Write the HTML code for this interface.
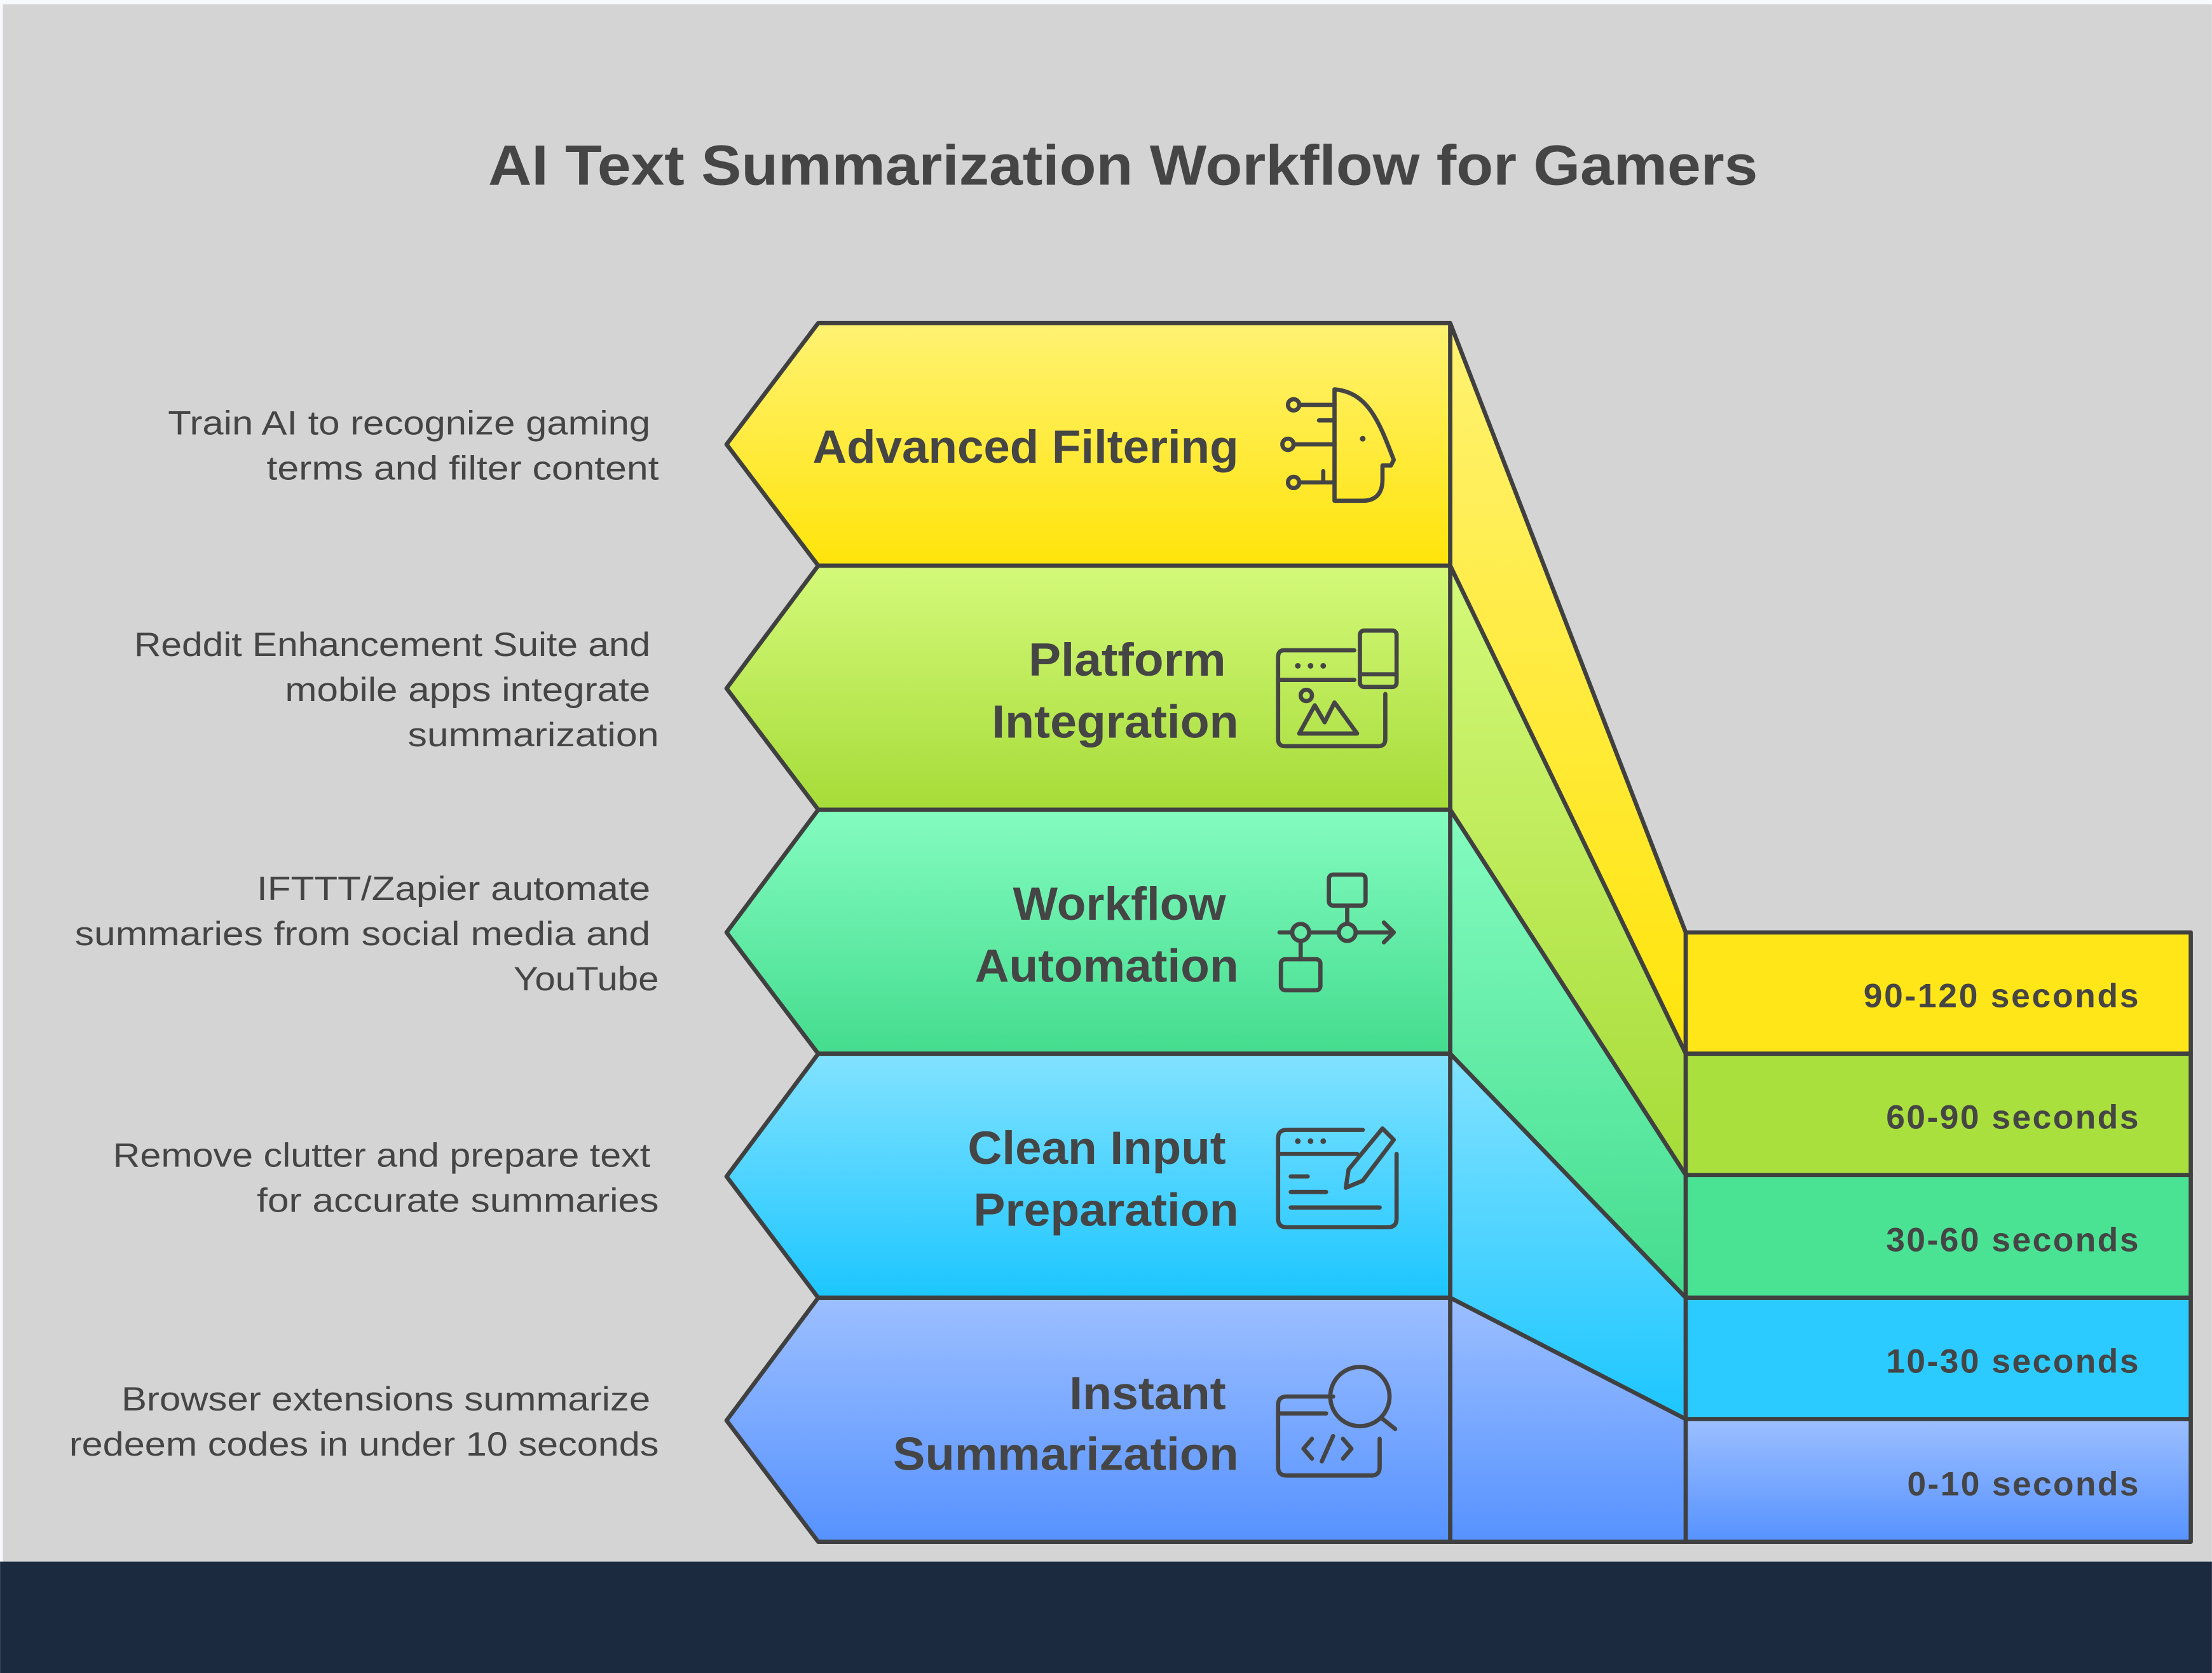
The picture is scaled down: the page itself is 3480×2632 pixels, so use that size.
<!DOCTYPE html>
<html><head><meta charset="utf-8"><style>
html,body{margin:0;padding:0;background:#f8f9fa;}
svg{display:block;}
text{font-family:"Liberation Sans",sans-serif;fill:#454545;}
.b{font-weight:bold;}
</style></head><body>
<svg width="3480" height="2632" viewBox="0 0 1568 1186" xmlns="http://www.w3.org/2000/svg">
<defs>
<linearGradient id="gy" x1="0" y1="0" x2="0" y2="1"><stop offset="0" stop-color="#fff272"/><stop offset="1" stop-color="#ffe40a"/></linearGradient>
<linearGradient id="gg" x1="0" y1="0" x2="0" y2="1"><stop offset="0" stop-color="#d4f97a"/><stop offset="1" stop-color="#a6dc38"/></linearGradient>
<linearGradient id="gt" x1="0" y1="0" x2="0" y2="1"><stop offset="0" stop-color="#84fcc0"/><stop offset="1" stop-color="#44dc8e"/></linearGradient>
<linearGradient id="gc" x1="0" y1="0" x2="0" y2="1"><stop offset="0" stop-color="#82e2ff"/><stop offset="1" stop-color="#1cc6ff"/></linearGradient>
<linearGradient id="gb" x1="0" y1="0" x2="0" y2="1"><stop offset="0" stop-color="#9cbfff"/><stop offset="1" stop-color="#5692ff"/></linearGradient>
</defs>
<rect x="2" y="3" width="1566" height="1104" fill="#d4d4d4"/>
<rect x="0" y="1107" width="1568" height="79" fill="#1b2a3f"/>
<text x="796" y="131" text-anchor="middle" class="b" font-size="40" textLength="900" lengthAdjust="spacingAndGlyphs">AI Text Summarization Workflow for Gamers</text>

<g stroke="#404040" stroke-width="3" stroke-linejoin="round">
<polygon points="1028,229 1195,661 1195,747 1028,401" fill="url(#gy)"/>
<polygon points="1028,401 1195,747 1195,833 1028,574" fill="url(#gg)"/>
<polygon points="1028,574 1195,833 1195,920 1028,747" fill="url(#gt)"/>
<polygon points="1028,747 1195,920 1195,1006 1028,920" fill="url(#gc)"/>
<polygon points="1028,920 1195,1006 1195,1093 1028,1093" fill="url(#gb)"/>
<rect x="1195" y="661" width="358" height="86" fill="#ffe619"/>
<rect x="1195" y="747" width="358" height="86" fill="#a9e03e"/>
<rect x="1195" y="833" width="358" height="87" fill="#4ae394"/>
<rect x="1195" y="920" width="358" height="86" fill="#2ccbff"/>
<rect x="1195" y="1006" width="358" height="87" fill="url(#gb)"/>
<polygon points="580,229 1028,229 1028,401 580,401 515,315" fill="url(#gy)"/>
<polygon points="580,401 1028,401 1028,574 580,574 515,488" fill="url(#gg)"/>
<polygon points="580,574 1028,574 1028,747 580,747 515,661" fill="url(#gt)"/>
<polygon points="580,747 1028,747 1028,920 580,920 515,834" fill="url(#gc)"/>
<polygon points="580,920 1028,920 1028,1093 580,1093 515,1007" fill="url(#gb)"/>
</g>

<g font-size="24" text-anchor="end" lengthAdjust="spacingAndGlyphs">
<text x="1516" y="714" class="b" textLength="195">90-120 seconds</text>
<text x="1516" y="800" class="b" textLength="179">60-90 seconds</text>
<text x="1516" y="887" class="b" textLength="179">30-60 seconds</text>
<text x="1516" y="973" class="b" textLength="179">10-30 seconds</text>
<text x="1516" y="1060" class="b" textLength="164">0-10 seconds</text>
</g>

<g font-size="33" text-anchor="end">
<text x="878" y="328" class="b" textLength="302" lengthAdjust="spacingAndGlyphs">Advanced Filtering</text>
<text x="869" y="479" class="b" textLength="140" lengthAdjust="spacingAndGlyphs">Platform</text>
<text x="878" y="523" class="b" textLength="175" lengthAdjust="spacingAndGlyphs">Integration</text>
<text x="869" y="652" class="b" textLength="151" lengthAdjust="spacingAndGlyphs">Workflow</text>
<text x="878" y="696" class="b" textLength="187" lengthAdjust="spacingAndGlyphs">Automation</text>
<text x="869" y="825" class="b" textLength="183" lengthAdjust="spacingAndGlyphs">Clean Input</text>
<text x="878" y="869" class="b" textLength="188" lengthAdjust="spacingAndGlyphs">Preparation</text>
<text x="869" y="999" class="b" textLength="111" lengthAdjust="spacingAndGlyphs">Instant</text>
<text x="878" y="1042" class="b" textLength="245" lengthAdjust="spacingAndGlyphs">Summarization</text>
</g>

<g font-size="24" text-anchor="end">
<text x="461" y="308" textLength="342" lengthAdjust="spacingAndGlyphs">Train AI to recognize gaming</text>
<text x="467" y="340" textLength="278" lengthAdjust="spacingAndGlyphs">terms and filter content</text>
<text x="461" y="465" textLength="366" lengthAdjust="spacingAndGlyphs">Reddit Enhancement Suite and</text>
<text x="461" y="497" textLength="259" lengthAdjust="spacingAndGlyphs">mobile apps integrate</text>
<text x="467" y="529" textLength="178" lengthAdjust="spacingAndGlyphs">summarization</text>
<text x="461" y="638" textLength="279" lengthAdjust="spacingAndGlyphs">IFTTT/Zapier automate</text>
<text x="461" y="670" textLength="408" lengthAdjust="spacingAndGlyphs">summaries from social media and</text>
<text x="467" y="702" textLength="103" lengthAdjust="spacingAndGlyphs">YouTube</text>
<text x="461" y="827" textLength="381" lengthAdjust="spacingAndGlyphs">Remove clutter and prepare text</text>
<text x="467" y="859" textLength="285" lengthAdjust="spacingAndGlyphs">for accurate summaries</text>
<text x="461" y="1000" textLength="375" lengthAdjust="spacingAndGlyphs">Browser extensions summarize</text>
<text x="467" y="1032" textLength="418" lengthAdjust="spacingAndGlyphs">redeem codes in under 10 seconds</text>
</g>

<g fill="none" stroke="#454545" stroke-width="3" stroke-linecap="round" stroke-linejoin="round">
<path d="M946,276 C970,278 978,300 988,326 L986,330 L980,330 L980,340 C980,350 975,355 966,355 L946,355 Z"/>
<circle cx="917" cy="287" r="4"/><circle cx="913" cy="315" r="4"/><circle cx="917" cy="342" r="4"/>
<path d="M921,287 H946 M917,315 H946 M921,342 H946 M935,298 H946 M938,334 V342"/>
<path d="M960,461 H910 Q906,461 906,466 V524 Q906,529 911,529 H977 Q982,529 982,524 V492"/>
<path d="M906,482 H960"/>
<rect x="964" y="447" width="26" height="40" rx="3"/><path d="M964,478 H990"/>
<circle cx="926" cy="493" r="4"/><path d="M921,520 L932,500 L939,512 L946,498 L962,520 Z"/>
<rect x="942" y="620" width="26" height="22" rx="3"/><path d="M955,642 V655"/>
<circle cx="922" cy="661" r="6"/><circle cx="955" cy="661" r="6"/>
<path d="M907,661 H916 M928,661 H949 M961,661 H988 M981,654 L988,661 L981,668 M922,667 V680"/>
<rect x="908" y="680" width="28" height="22" rx="3"/>
<path d="M966,801 H912 Q906,801 906,807 V864 Q906,870 912,870 H984 Q990,870 990,864 V818"/>
<path d="M906,818 H962 M915,834 H927 M915,845 H940 M915,856 H978"/>
<path d="M980,800 L988,808 L966,837 L954,842 L956,829 Z"/>
<path d="M945,990 H912 Q906,990 906,996 V1040 Q906,1046 912,1046 H972 Q978,1046 978,1040 V1020"/>
<path d="M906,1002 H940"/>
<circle cx="964" cy="990" r="21"/><path d="M979,1005 L989,1013"/>
<path d="M930,1020 L924,1027 L930,1034 M952,1020 L958,1027 L952,1034 M945,1018 L937,1036"/>
</g>
<g fill="#454545">
<circle cx="920" cy="472" r="2"/><circle cx="929" cy="472" r="2"/><circle cx="938" cy="472" r="2"/>
<circle cx="920" cy="809" r="2"/><circle cx="929" cy="809" r="2"/><circle cx="938" cy="809" r="2"/>
<circle cx="966" cy="311" r="2"/>
</g>
</svg>
</body></html>
